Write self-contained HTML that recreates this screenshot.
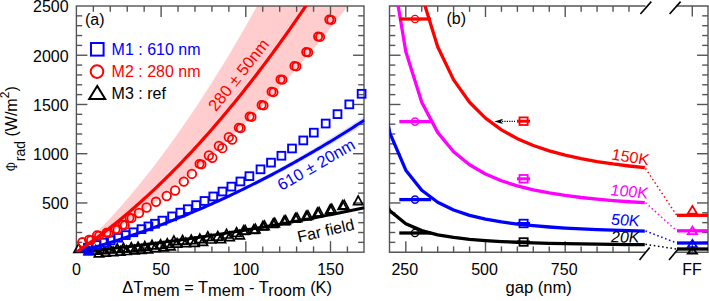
<!DOCTYPE html>
<html><head><meta charset="utf-8"><style>
html,body{margin:0;padding:0;background:#fff;}
svg{display:block;}
text{font-family:"Liberation Sans",sans-serif;}
</style></head><body>
<svg width="709" height="301" viewBox="0 0 709 301">
<rect width="709" height="301" fill="#fff"/>
<defs><clipPath id="ca"><rect x="76.4" y="6" width="288" height="246.2"/></clipPath><clipPath id="cb"><rect x="389.5" y="6" width="318.5" height="246.2"/></clipPath></defs>
<g clip-path="url(#ca)"><polygon points="76.4,252.2 78.82,249.95 81.24,247.68 83.66,245.37 86.08,243.04 88.5,240.68 90.92,238.29 93.34,235.87 95.76,233.43 98.18,230.95 100.6,228.45 103.02,225.92 105.44,223.35 107.86,220.77 110.28,218.15 112.7,215.5 115.12,212.83 117.54,210.12 119.96,207.39 122.38,204.63 124.8,201.84 127.22,199.03 129.64,196.18 132.06,193.31 134.48,190.4 136.9,187.47 139.32,184.51 141.74,181.53 144.16,178.51 146.58,175.46 149,172.39 151.42,169.29 153.84,166.16 156.26,163 158.68,159.81 161.1,156.59 163.52,153.35 165.94,150.07 168.36,146.77 170.78,143.44 173.2,140.08 175.62,136.7 178.04,133.28 180.46,129.84 182.88,126.36 185.3,122.86 187.72,119.33 190.14,115.77 192.56,112.19 194.98,108.57 197.4,104.93 199.82,101.25 202.24,97.55 204.66,93.82 207.08,90.06 209.5,86.28 211.92,82.46 214.34,78.62 216.76,74.75 219.18,70.85 221.6,66.92 224.02,62.96 226.44,58.97 228.86,54.96 231.28,50.92 233.7,46.84 236.12,42.74 238.54,38.62 240.96,34.46 243.38,30.27 245.8,26.06 248.22,21.82 250.64,17.54 253.06,13.24 255.48,8.92 257.9,4.56 260.32,0.17 262.74,-4.24 265.16,-8.68 267.58,-13.15 270,-17.65 272.42,-22.18 274.84,-26.74 277.26,-31.32 279.68,-35.93 282.1,-40.58 284.52,-45.25 286.94,-49.95 289.36,-54.67 291.78,-59.43 294.2,-64.21 296.62,-69.03 299.04,-73.87 301.46,-78.74 303.88,-83.64 306.3,-88.56 308.72,-93.52 311.14,-98.5 313.56,-103.52 315.98,-108.56 318.4,-113.63 320.82,-118.73 323.24,-123.85 325.66,-129.01 328.08,-134.19 330.5,-139.4 332.92,-144.64 335.34,-149.91 337.76,-155.21 340.18,-160.54 342.6,-165.89 345.02,-171.27 347.44,-176.69 349.86,-182.13 352.28,-187.6 354.7,-193.09 357.12,-198.62 359.54,-204.17 361.96,-209.76 364.38,-215.37 364.38,-15.47 361.96,-12.25 359.54,-9.06 357.12,-5.88 354.7,-2.71 352.28,0.43 349.86,3.56 347.44,6.68 345.02,9.78 342.6,12.86 340.18,15.92 337.76,18.97 335.34,22.01 332.92,25.02 330.5,28.02 328.08,31.01 325.66,33.97 323.24,36.92 320.82,39.86 318.4,42.78 315.98,45.68 313.56,48.57 311.14,51.43 308.72,54.29 306.3,57.12 303.88,59.95 301.46,62.75 299.04,65.54 296.62,68.31 294.2,71.06 291.78,73.8 289.36,76.53 286.94,79.23 284.52,81.92 282.1,84.6 279.68,87.25 277.26,89.89 274.84,92.52 272.42,95.13 270,97.72 267.58,100.3 265.16,102.85 262.74,105.4 260.32,107.92 257.9,110.43 255.48,112.93 253.06,115.41 250.64,117.87 248.22,120.31 245.8,122.74 243.38,125.15 240.96,127.55 238.54,129.93 236.12,132.29 233.7,134.64 231.28,136.97 228.86,139.29 226.44,141.59 224.02,143.87 221.6,146.13 219.18,148.38 216.76,150.61 214.34,152.83 211.92,155.03 209.5,157.22 207.08,159.38 204.66,161.53 202.24,163.67 199.82,165.79 197.4,167.89 194.98,169.98 192.56,172.05 190.14,174.1 187.72,176.14 185.3,178.16 182.88,180.16 180.46,182.15 178.04,184.12 175.62,186.08 173.2,188.02 170.78,189.94 168.36,191.85 165.94,193.74 163.52,195.61 161.1,197.47 158.68,199.31 156.26,201.13 153.84,202.94 151.42,204.74 149,206.51 146.58,208.27 144.16,210.01 141.74,211.74 139.32,213.45 136.9,215.15 134.48,216.82 132.06,218.49 129.64,220.13 127.22,221.76 124.8,223.37 122.38,224.97 119.96,226.55 117.54,228.11 115.12,229.66 112.7,231.19 110.28,232.71 107.86,234.21 105.44,235.69 103.02,237.15 100.6,238.6 98.18,240.04 95.76,241.45 93.34,242.85 90.92,244.24 88.5,245.61 86.08,246.96 83.66,248.29 81.24,249.61 78.82,250.91 76.4,252.2" fill="#ffcdcd"/>
<polygon points="76.4,252.2 78.82,251.53 81.24,250.85 83.66,250.17 86.08,249.48 88.5,248.77 90.92,248.06 93.34,247.35 95.76,246.62 98.18,245.89 100.6,245.15 103.02,244.4 105.44,243.64 107.86,242.87 110.28,242.1 112.7,241.32 115.12,240.53 117.54,239.73 119.96,238.93 122.38,238.11 124.8,237.29 127.22,236.46 129.64,235.62 132.06,234.78 134.48,233.92 136.9,233.06 139.32,232.19 141.74,231.31 144.16,230.43 146.58,229.53 149,228.63 151.42,227.72 153.84,226.8 156.26,225.88 158.68,224.94 161.1,224 163.52,223.05 165.94,222.09 168.36,221.13 170.78,220.15 173.2,219.17 175.62,218.18 178.04,217.18 180.46,216.17 182.88,215.16 185.3,214.14 187.72,213.11 190.14,212.07 192.56,211.02 194.98,209.97 197.4,208.9 199.82,207.83 202.24,206.75 204.66,205.67 207.08,204.57 209.5,203.47 211.92,202.36 214.34,201.24 216.76,200.11 219.18,198.98 221.6,197.84 224.02,196.68 226.44,195.53 228.86,194.36 231.28,193.18 233.7,192 236.12,190.81 238.54,189.61 240.96,188.4 243.38,187.19 245.8,185.96 248.22,184.73 250.64,183.49 253.06,182.25 255.48,180.99 257.9,179.73 260.32,178.45 262.74,177.18 265.16,175.89 267.58,174.59 270,173.29 272.42,171.98 274.84,170.66 277.26,169.33 279.68,167.99 282.1,166.65 284.52,165.3 286.94,163.94 289.36,162.57 291.78,161.19 294.2,159.81 296.62,158.42 299.04,157.02 301.46,155.61 303.88,154.19 306.3,152.77 308.72,151.34 311.14,149.9 313.56,148.45 315.98,146.99 318.4,145.53 320.82,144.06 323.24,142.58 325.66,141.09 328.08,139.59 330.5,138.09 332.92,136.57 335.34,135.05 337.76,133.52 340.18,131.99 342.6,130.44 345.02,128.89 347.44,127.33 349.86,125.76 352.28,124.18 354.7,122.6 357.12,121.01 359.54,119.41 361.96,117.8 364.38,116.18 364.38,124.1 361.96,125.63 359.54,127.14 357.12,128.65 354.7,130.15 352.28,131.64 349.86,133.13 347.44,134.6 345.02,136.07 342.6,137.54 340.18,138.99 337.76,140.44 335.34,141.88 332.92,143.31 330.5,144.73 328.08,146.15 325.66,147.56 323.24,148.96 320.82,150.36 318.4,151.74 315.98,153.12 313.56,154.49 311.14,155.86 308.72,157.21 306.3,158.56 303.88,159.9 301.46,161.24 299.04,162.56 296.62,163.88 294.2,165.19 291.78,166.5 289.36,167.79 286.94,169.08 284.52,170.36 282.1,171.63 279.68,172.9 277.26,174.16 274.84,175.41 272.42,176.65 270,177.88 267.58,179.11 265.16,180.33 262.74,181.55 260.32,182.75 257.9,183.95 255.48,185.14 253.06,186.32 250.64,187.49 248.22,188.66 245.8,189.82 243.38,190.97 240.96,192.12 238.54,193.26 236.12,194.38 233.7,195.51 231.28,196.62 228.86,197.73 226.44,198.83 224.02,199.92 221.6,201 219.18,202.08 216.76,203.15 214.34,204.21 211.92,205.26 209.5,206.31 207.08,207.35 204.66,208.38 202.24,209.4 199.82,210.42 197.4,211.43 194.98,212.43 192.56,213.42 190.14,214.41 187.72,215.38 185.3,216.35 182.88,217.32 180.46,218.27 178.04,219.22 175.62,220.16 173.2,221.09 170.78,222.02 168.36,222.94 165.94,223.85 163.52,224.75 161.1,225.64 158.68,226.53 156.26,227.41 153.84,228.28 151.42,229.15 149,230 146.58,230.85 144.16,231.7 141.74,232.53 139.32,233.36 136.9,234.18 134.48,234.99 132.06,235.79 129.64,236.59 127.22,237.38 124.8,238.16 122.38,238.93 119.96,239.7 117.54,240.46 115.12,241.21 112.7,241.95 110.28,242.69 107.86,243.42 105.44,244.14 103.02,244.85 100.6,245.56 98.18,246.26 95.76,246.95 93.34,247.63 90.92,248.31 88.5,248.97 86.08,249.63 83.66,250.29 81.24,250.93 78.82,251.57 76.4,252.2" fill="#c8c8ff" opacity="0.6"/></g>
<g stroke="#555" stroke-width="1.4" fill="none">
<rect x="76.4" y="6" width="287.6" height="246.2"/>
<line x1="93.34" y1="6" x2="93.34" y2="11.8"/><line x1="93.34" y1="252.2" x2="93.34" y2="246.4"/>
<line x1="110.28" y1="6" x2="110.28" y2="11.8"/><line x1="110.28" y1="252.2" x2="110.28" y2="246.4"/>
<line x1="127.22" y1="6" x2="127.22" y2="11.8"/><line x1="127.22" y1="252.2" x2="127.22" y2="246.4"/>
<line x1="144.16" y1="6" x2="144.16" y2="11.8"/><line x1="144.16" y1="252.2" x2="144.16" y2="246.4"/>
<line x1="161.1" y1="6" x2="161.1" y2="17"/><line x1="161.1" y1="252.2" x2="161.1" y2="241.2"/>
<line x1="178.04" y1="6" x2="178.04" y2="11.8"/><line x1="178.04" y1="252.2" x2="178.04" y2="246.4"/>
<line x1="194.98" y1="6" x2="194.98" y2="11.8"/><line x1="194.98" y1="252.2" x2="194.98" y2="246.4"/>
<line x1="211.92" y1="6" x2="211.92" y2="11.8"/><line x1="211.92" y1="252.2" x2="211.92" y2="246.4"/>
<line x1="228.86" y1="6" x2="228.86" y2="11.8"/><line x1="228.86" y1="252.2" x2="228.86" y2="246.4"/>
<line x1="245.8" y1="6" x2="245.8" y2="17"/><line x1="245.8" y1="252.2" x2="245.8" y2="241.2"/>
<line x1="262.74" y1="6" x2="262.74" y2="11.8"/><line x1="262.74" y1="252.2" x2="262.74" y2="246.4"/>
<line x1="279.68" y1="6" x2="279.68" y2="11.8"/><line x1="279.68" y1="252.2" x2="279.68" y2="246.4"/>
<line x1="296.62" y1="6" x2="296.62" y2="11.8"/><line x1="296.62" y1="252.2" x2="296.62" y2="246.4"/>
<line x1="313.56" y1="6" x2="313.56" y2="11.8"/><line x1="313.56" y1="252.2" x2="313.56" y2="246.4"/>
<line x1="330.5" y1="6" x2="330.5" y2="17"/><line x1="330.5" y1="252.2" x2="330.5" y2="241.2"/>
<line x1="347.44" y1="6" x2="347.44" y2="11.8"/><line x1="347.44" y1="252.2" x2="347.44" y2="246.4"/>
<line x1="76.4" y1="242.35" x2="82.2" y2="242.35"/><line x1="364" y1="242.35" x2="358.2" y2="242.35"/>
<line x1="76.4" y1="232.5" x2="82.2" y2="232.5"/><line x1="364" y1="232.5" x2="358.2" y2="232.5"/>
<line x1="76.4" y1="222.66" x2="82.2" y2="222.66"/><line x1="364" y1="222.66" x2="358.2" y2="222.66"/>
<line x1="76.4" y1="212.81" x2="82.2" y2="212.81"/><line x1="364" y1="212.81" x2="358.2" y2="212.81"/>
<line x1="76.4" y1="202.96" x2="87.4" y2="202.96"/><line x1="364" y1="202.96" x2="353" y2="202.96"/>
<line x1="76.4" y1="193.11" x2="82.2" y2="193.11"/><line x1="364" y1="193.11" x2="358.2" y2="193.11"/>
<line x1="76.4" y1="183.26" x2="82.2" y2="183.26"/><line x1="364" y1="183.26" x2="358.2" y2="183.26"/>
<line x1="76.4" y1="173.42" x2="82.2" y2="173.42"/><line x1="364" y1="173.42" x2="358.2" y2="173.42"/>
<line x1="76.4" y1="163.57" x2="82.2" y2="163.57"/><line x1="364" y1="163.57" x2="358.2" y2="163.57"/>
<line x1="76.4" y1="153.72" x2="87.4" y2="153.72"/><line x1="364" y1="153.72" x2="353" y2="153.72"/>
<line x1="76.4" y1="143.87" x2="82.2" y2="143.87"/><line x1="364" y1="143.87" x2="358.2" y2="143.87"/>
<line x1="76.4" y1="134.02" x2="82.2" y2="134.02"/><line x1="364" y1="134.02" x2="358.2" y2="134.02"/>
<line x1="76.4" y1="124.18" x2="82.2" y2="124.18"/><line x1="364" y1="124.18" x2="358.2" y2="124.18"/>
<line x1="76.4" y1="114.33" x2="82.2" y2="114.33"/><line x1="364" y1="114.33" x2="358.2" y2="114.33"/>
<line x1="76.4" y1="104.48" x2="87.4" y2="104.48"/><line x1="364" y1="104.48" x2="353" y2="104.48"/>
<line x1="76.4" y1="94.63" x2="82.2" y2="94.63"/><line x1="364" y1="94.63" x2="358.2" y2="94.63"/>
<line x1="76.4" y1="84.78" x2="82.2" y2="84.78"/><line x1="364" y1="84.78" x2="358.2" y2="84.78"/>
<line x1="76.4" y1="74.94" x2="82.2" y2="74.94"/><line x1="364" y1="74.94" x2="358.2" y2="74.94"/>
<line x1="76.4" y1="65.09" x2="82.2" y2="65.09"/><line x1="364" y1="65.09" x2="358.2" y2="65.09"/>
<line x1="76.4" y1="55.24" x2="87.4" y2="55.24"/><line x1="364" y1="55.24" x2="353" y2="55.24"/>
<line x1="76.4" y1="45.39" x2="82.2" y2="45.39"/><line x1="364" y1="45.39" x2="358.2" y2="45.39"/>
<line x1="76.4" y1="35.54" x2="82.2" y2="35.54"/><line x1="364" y1="35.54" x2="358.2" y2="35.54"/>
<line x1="76.4" y1="25.7" x2="82.2" y2="25.7"/><line x1="364" y1="25.7" x2="358.2" y2="25.7"/>
<line x1="76.4" y1="15.85" x2="82.2" y2="15.85"/><line x1="364" y1="15.85" x2="358.2" y2="15.85"/>
</g>
<g clip-path="url(#ca)"><polyline points="76.4,252.2 78.82,251.96 81.24,251.72 83.66,251.48 86.08,251.24 88.5,250.99 90.92,250.74 93.34,250.49 95.76,250.24 98.18,249.98 100.6,249.72 103.02,249.46 105.44,249.2 107.86,248.93 110.28,248.66 112.7,248.4 115.12,248.12 117.54,247.85 119.96,247.57 122.38,247.29 124.8,247.01 127.22,246.73 129.64,246.44 132.06,246.15 134.48,245.86 136.9,245.57 139.32,245.27 141.74,244.98 144.16,244.68 146.58,244.38 149,244.07 151.42,243.76 153.84,243.46 156.26,243.14 158.68,242.83 161.1,242.51 163.52,242.2 165.94,241.88 168.36,241.55 170.78,241.23 173.2,240.9 175.62,240.57 178.04,240.24 180.46,239.9 182.88,239.57 185.3,239.23 187.72,238.89 190.14,238.54 192.56,238.2 194.98,237.85 197.4,237.5 199.82,237.15 202.24,236.79 204.66,236.43 207.08,236.07 209.5,235.71 211.92,235.35 214.34,234.98 216.76,234.61 219.18,234.24 221.6,233.87 224.02,233.49 226.44,233.11 228.86,232.73 231.28,232.35 233.7,231.96 236.12,231.58 238.54,231.19 240.96,230.79 243.38,230.4 245.8,230 248.22,229.6 250.64,229.2 253.06,228.8 255.48,228.39 257.9,227.98 260.32,227.57 262.74,227.16 265.16,226.75 267.58,226.33 270,225.91 272.42,225.49 274.84,225.06 277.26,224.64 279.68,224.21 282.1,223.78 284.52,223.34 286.94,222.91 289.36,222.47 291.78,222.03 294.2,221.58 296.62,221.14 299.04,220.69 301.46,220.24 303.88,219.79 306.3,219.34 308.72,218.88 311.14,218.42 313.56,217.96 315.98,217.49 318.4,217.03 320.82,216.56 323.24,216.09 325.66,215.62 328.08,215.14 330.5,214.66 332.92,214.18 335.34,213.7 337.76,213.22 340.18,212.73 342.6,212.24 345.02,211.75 347.44,211.26 349.86,210.76 352.28,210.26 354.7,209.76 357.12,209.26 359.54,208.75 361.96,208.25 364.38,207.74" fill="none" stroke="#000" stroke-width="3"/></g>
<polygon points="88.8,246.5 84,254.6 93.6,254.6" fill="none" stroke="#000" stroke-width="1.6"/>
<polygon points="99,248.2 94.4,256.8 103.6,256.8" fill="none" stroke="#000" stroke-width="1.7" stroke-linejoin="miter"/>
<polygon points="105.7,247.6 101.1,256.2 110.3,256.2" fill="none" stroke="#000" stroke-width="1.7" stroke-linejoin="miter"/>
<polygon points="113.1,247 108.5,255.6 117.7,255.6" fill="none" stroke="#000" stroke-width="1.7" stroke-linejoin="miter"/>
<polygon points="120.4,246.5 115.8,255.1 125,255.1" fill="none" stroke="#000" stroke-width="1.7" stroke-linejoin="miter"/>
<polygon points="126.6,245.9 122,254.5 131.2,254.5" fill="none" stroke="#000" stroke-width="1.7" stroke-linejoin="miter"/>
<polygon points="134.5,245.3 129.9,253.9 139.1,253.9" fill="none" stroke="#000" stroke-width="1.7" stroke-linejoin="miter"/>
<polygon points="141.3,244.8 136.7,253.4 145.9,253.4" fill="none" stroke="#000" stroke-width="1.7" stroke-linejoin="miter"/>
<polygon points="148,244.2 143.4,252.8 152.6,252.8" fill="none" stroke="#000" stroke-width="1.7" stroke-linejoin="miter"/>
<polygon points="155.2,242.9 150.6,251.5 159.8,251.5" fill="none" stroke="#000" stroke-width="1.7" stroke-linejoin="miter"/>
<polygon points="163.8,242.3 159.2,250.9 168.4,250.9" fill="none" stroke="#000" stroke-width="1.7" stroke-linejoin="miter"/>
<polygon points="170.5,241.3 165.9,249.9 175.1,249.9" fill="none" stroke="#000" stroke-width="1.7" stroke-linejoin="miter"/>
<polygon points="177.1,238.6 172.5,247.2 181.7,247.2" fill="none" stroke="#000" stroke-width="1.7" stroke-linejoin="miter"/>
<polygon points="185.8,238.1 181.2,246.7 190.4,246.7" fill="none" stroke="#000" stroke-width="1.7" stroke-linejoin="miter"/>
<polygon points="194.4,237.7 189.8,246.3 199,246.3" fill="none" stroke="#000" stroke-width="1.7" stroke-linejoin="miter"/>
<polygon points="203,236.7 198.4,245.3 207.6,245.3" fill="none" stroke="#000" stroke-width="1.7" stroke-linejoin="miter"/>
<polygon points="211,234.4 206.4,243 215.6,243" fill="none" stroke="#000" stroke-width="1.7" stroke-linejoin="miter"/>
<polygon points="221,234.1 216.4,242.7 225.6,242.7" fill="none" stroke="#000" stroke-width="1.7" stroke-linejoin="miter"/>
<polygon points="229.7,232 225.1,240.6 234.3,240.6" fill="none" stroke="#000" stroke-width="1.7" stroke-linejoin="miter"/>
<polygon points="239.8,230.3 235.2,238.9 244.4,238.9" fill="none" stroke="#000" stroke-width="1.7" stroke-linejoin="miter"/>
<polygon points="243.6,225.9 239,234.5 248.2,234.5" fill="none" stroke="#000" stroke-width="1.7" stroke-linejoin="miter"/>
<polygon points="253.8,224.8 249.2,233.4 258.4,233.4" fill="none" stroke="#000" stroke-width="1.7" stroke-linejoin="miter"/>
<polygon points="262.9,221.4 258.3,230 267.5,230" fill="none" stroke="#000" stroke-width="1.7" stroke-linejoin="miter"/>
<polygon points="273.2,218.8 268.6,227.4 277.8,227.4" fill="none" stroke="#000" stroke-width="1.7" stroke-linejoin="miter"/>
<polygon points="284.1,216.1 279.5,224.7 288.7,224.7" fill="none" stroke="#000" stroke-width="1.7" stroke-linejoin="miter"/>
<polygon points="295.4,213.5 290.8,222.1 300,222.1" fill="none" stroke="#000" stroke-width="1.7" stroke-linejoin="miter"/>
<polygon points="306.3,211.2 301.7,219.8 310.9,219.8" fill="none" stroke="#000" stroke-width="1.7" stroke-linejoin="miter"/>
<polygon points="317.5,208 312.9,216.6 322.1,216.6" fill="none" stroke="#000" stroke-width="1.7" stroke-linejoin="miter"/>
<polygon points="330.2,204.7 325.6,213.3 334.8,213.3" fill="none" stroke="#000" stroke-width="1.7" stroke-linejoin="miter"/>
<polygon points="342.6,200.7 338,209.3 347.2,209.3" fill="none" stroke="#000" stroke-width="1.7" stroke-linejoin="miter"/>
<polygon points="78.5,243.8 73.9,252.4 83.1,252.4" fill="none" stroke="#000" stroke-width="1.7" stroke-linejoin="miter"/>
<polygon points="95.8,245.6 91.2,254.2 100.4,254.2" fill="none" stroke="#000" stroke-width="1.7" stroke-linejoin="miter"/>
<polygon points="102.5,245 97.9,253.6 107.1,253.6" fill="none" stroke="#000" stroke-width="1.7" stroke-linejoin="miter"/>
<polygon points="109.9,244.4 105.3,253 114.5,253" fill="none" stroke="#000" stroke-width="1.7" stroke-linejoin="miter"/>
<polygon points="117.2,243.9 112.6,252.5 121.8,252.5" fill="none" stroke="#000" stroke-width="1.7" stroke-linejoin="miter"/>
<polygon points="123.4,243.3 118.8,251.9 128,251.9" fill="none" stroke="#000" stroke-width="1.7" stroke-linejoin="miter"/>
<polygon points="131.3,242.7 126.7,251.3 135.9,251.3" fill="none" stroke="#000" stroke-width="1.7" stroke-linejoin="miter"/>
<polygon points="138.1,242.2 133.5,250.8 142.7,250.8" fill="none" stroke="#000" stroke-width="1.7" stroke-linejoin="miter"/>
<polygon points="144.8,241.6 140.2,250.2 149.4,250.2" fill="none" stroke="#000" stroke-width="1.7" stroke-linejoin="miter"/>
<polygon points="152,240.3 147.4,248.9 156.6,248.9" fill="none" stroke="#000" stroke-width="1.7" stroke-linejoin="miter"/>
<polygon points="160.6,239.7 156,248.3 165.2,248.3" fill="none" stroke="#000" stroke-width="1.7" stroke-linejoin="miter"/>
<polygon points="167.3,238.7 162.7,247.3 171.9,247.3" fill="none" stroke="#000" stroke-width="1.7" stroke-linejoin="miter"/>
<polygon points="173.9,236 169.3,244.6 178.5,244.6" fill="none" stroke="#000" stroke-width="1.7" stroke-linejoin="miter"/>
<polygon points="182.6,235.5 178,244.1 187.2,244.1" fill="none" stroke="#000" stroke-width="1.7" stroke-linejoin="miter"/>
<polygon points="191.2,235.1 186.6,243.7 195.8,243.7" fill="none" stroke="#000" stroke-width="1.7" stroke-linejoin="miter"/>
<polygon points="199.8,234.1 195.2,242.7 204.4,242.7" fill="none" stroke="#000" stroke-width="1.7" stroke-linejoin="miter"/>
<polygon points="207.8,231.8 203.2,240.4 212.4,240.4" fill="none" stroke="#000" stroke-width="1.7" stroke-linejoin="miter"/>
<polygon points="217.8,231.5 213.2,240.1 222.4,240.1" fill="none" stroke="#000" stroke-width="1.7" stroke-linejoin="miter"/>
<polygon points="226.5,229.4 221.9,238 231.1,238" fill="none" stroke="#000" stroke-width="1.7" stroke-linejoin="miter"/>
<polygon points="236.6,227.7 232,236.3 241.2,236.3" fill="none" stroke="#000" stroke-width="1.7" stroke-linejoin="miter"/>
<polygon points="245.2,225.5 240.6,234.1 249.8,234.1" fill="none" stroke="#000" stroke-width="1.7" stroke-linejoin="miter"/>
<polygon points="255.4,224.4 250.8,233 260,233" fill="none" stroke="#000" stroke-width="1.7" stroke-linejoin="miter"/>
<polygon points="264.5,221 259.9,229.6 269.1,229.6" fill="none" stroke="#000" stroke-width="1.7" stroke-linejoin="miter"/>
<polygon points="274.8,218.4 270.2,227 279.4,227" fill="none" stroke="#000" stroke-width="1.7" stroke-linejoin="miter"/>
<polygon points="285.7,215.7 281.1,224.3 290.3,224.3" fill="none" stroke="#000" stroke-width="1.7" stroke-linejoin="miter"/>
<polygon points="297,213.1 292.4,221.7 301.6,221.7" fill="none" stroke="#000" stroke-width="1.7" stroke-linejoin="miter"/>
<polygon points="307.9,210.8 303.3,219.4 312.5,219.4" fill="none" stroke="#000" stroke-width="1.7" stroke-linejoin="miter"/>
<polygon points="319.1,207.6 314.5,216.2 323.7,216.2" fill="none" stroke="#000" stroke-width="1.7" stroke-linejoin="miter"/>
<polygon points="331.8,204.3 327.2,212.9 336.4,212.9" fill="none" stroke="#000" stroke-width="1.7" stroke-linejoin="miter"/>
<polygon points="344.2,200.3 339.6,208.9 348.8,208.9" fill="none" stroke="#000" stroke-width="1.7" stroke-linejoin="miter"/>
<polygon points="358.2,196 353.6,204.6 362.8,204.6" fill="none" stroke="#000" stroke-width="1.7" stroke-linejoin="miter"/>
<g clip-path="url(#ca)"><polyline points="76.4,252.2 78.82,251.55 81.24,250.89 83.66,250.23 86.08,249.55 88.5,248.87 90.92,248.19 93.34,247.49 95.76,246.78 98.18,246.07 100.6,245.35 103.02,244.62 105.44,243.89 107.86,243.15 110.28,242.4 112.7,241.64 115.12,240.87 117.54,240.1 119.96,239.31 122.38,238.52 124.8,237.73 127.22,236.92 129.64,236.11 132.06,235.29 134.48,234.46 136.9,233.62 139.32,232.77 141.74,231.92 144.16,231.06 146.58,230.19 149,229.32 151.42,228.43 153.84,227.54 156.26,226.64 158.68,225.74 161.1,224.82 163.52,223.9 165.94,222.97 168.36,222.03 170.78,221.09 173.2,220.13 175.62,219.17 178.04,218.2 180.46,217.22 182.88,216.24 185.3,215.25 187.72,214.25 190.14,213.24 192.56,212.22 194.98,211.2 197.4,210.17 199.82,209.13 202.24,208.08 204.66,207.02 207.08,205.96 209.5,204.89 211.92,203.81 214.34,202.72 216.76,201.63 219.18,200.53 221.6,199.42 224.02,198.3 226.44,197.18 228.86,196.04 231.28,194.9 233.7,193.75 236.12,192.6 238.54,191.43 240.96,190.26 243.38,189.08 245.8,187.89 248.22,186.7 250.64,185.49 253.06,184.28 255.48,183.06 257.9,181.84 260.32,180.6 262.74,179.36 265.16,178.11 267.58,176.85 270,175.59 272.42,174.31 274.84,173.03 277.26,171.74 279.68,170.45 282.1,169.14 284.52,167.83 286.94,166.51 289.36,165.18 291.78,163.84 294.2,162.5 296.62,161.15 299.04,159.79 301.46,158.42 303.88,157.05 306.3,155.67 308.72,154.28 311.14,152.88 313.56,151.47 315.98,150.06 318.4,148.64 320.82,147.21 323.24,145.77 325.66,144.32 328.08,142.87 330.5,141.41 332.92,139.94 335.34,138.47 337.76,136.98 340.18,135.49 342.6,133.99 345.02,132.48 347.44,130.97 349.86,129.44 352.28,127.91 354.7,126.37 357.12,124.83 359.54,123.27 361.96,121.71 364.38,120.14" fill="none" stroke="#0000ff" stroke-width="3"/></g>
<rect x="84.6" y="247.2" width="7.8" height="7.2" fill="none" stroke="#0000ff" stroke-width="1.9"/><rect x="85" y="252" width="7" height="2.4" fill="#0000ff"/>
<rect x="84" y="243.78" width="7.8" height="7.8" fill="none" stroke="#0000ff" stroke-width="1.9"/>
<rect x="92.6" y="241.11" width="7.8" height="7.8" fill="none" stroke="#0000ff" stroke-width="1.9"/>
<rect x="100.2" y="238.66" width="7.8" height="7.8" fill="none" stroke="#0000ff" stroke-width="1.9"/>
<rect x="106.7" y="236.49" width="7.8" height="7.8" fill="none" stroke="#0000ff" stroke-width="1.9"/>
<rect x="114.3" y="233.86" width="7.8" height="7.8" fill="none" stroke="#0000ff" stroke-width="1.9"/>
<rect x="121.8" y="231.19" width="7.8" height="7.8" fill="none" stroke="#0000ff" stroke-width="1.9"/>
<rect x="129.4" y="228.38" width="7.8" height="7.8" fill="none" stroke="#0000ff" stroke-width="1.9"/>
<rect x="137.6" y="225.24" width="7.8" height="7.8" fill="none" stroke="#0000ff" stroke-width="1.9"/>
<rect x="144.5" y="222.51" width="7.8" height="7.8" fill="none" stroke="#0000ff" stroke-width="1.9"/>
<rect x="151.1" y="219.82" width="7.8" height="7.8" fill="none" stroke="#0000ff" stroke-width="1.9"/>
<rect x="158.5" y="216.71" width="7.8" height="7.8" fill="none" stroke="#0000ff" stroke-width="1.9"/>
<rect x="168.2" y="212.48" width="7.8" height="7.8" fill="none" stroke="#0000ff" stroke-width="1.9"/>
<rect x="176.5" y="208.73" width="7.8" height="7.8" fill="none" stroke="#0000ff" stroke-width="1.9"/>
<rect x="183.9" y="205.27" width="7.8" height="7.8" fill="none" stroke="#0000ff" stroke-width="1.9"/>
<rect x="192.3" y="201.22" width="7.8" height="7.8" fill="none" stroke="#0000ff" stroke-width="1.9"/>
<rect x="200.6" y="197.08" width="7.8" height="7.8" fill="none" stroke="#0000ff" stroke-width="1.9"/>
<rect x="209.4" y="192.54" width="7.8" height="7.8" fill="none" stroke="#0000ff" stroke-width="1.9"/>
<rect x="218.6" y="187.63" width="7.8" height="7.8" fill="none" stroke="#0000ff" stroke-width="1.9"/>
<rect x="227.5" y="182.71" width="7.8" height="7.8" fill="none" stroke="#0000ff" stroke-width="1.9"/>
<rect x="236.5" y="177.56" width="7.8" height="7.8" fill="none" stroke="#0000ff" stroke-width="1.9"/>
<rect x="245.5" y="172.24" width="7.8" height="7.8" fill="none" stroke="#0000ff" stroke-width="1.9"/>
<rect x="256.6" y="165.43" width="7.8" height="7.8" fill="none" stroke="#0000ff" stroke-width="1.9"/>
<rect x="267.1" y="158.73" width="7.8" height="7.8" fill="none" stroke="#0000ff" stroke-width="1.9"/>
<rect x="277.5" y="151.85" width="7.8" height="7.8" fill="none" stroke="#0000ff" stroke-width="1.9"/>
<rect x="288.1" y="144.58" width="7.8" height="7.8" fill="none" stroke="#0000ff" stroke-width="1.9"/>
<rect x="299.4" y="136.52" width="7.8" height="7.8" fill="none" stroke="#0000ff" stroke-width="1.9"/>
<rect x="309.9" y="128.76" width="7.8" height="7.8" fill="none" stroke="#0000ff" stroke-width="1.9"/>
<rect x="321.8" y="119.64" width="7.8" height="7.8" fill="none" stroke="#0000ff" stroke-width="1.9"/>
<rect x="333.6" y="110.23" width="7.8" height="7.8" fill="none" stroke="#0000ff" stroke-width="1.9"/>
<rect x="345.4" y="100.47" width="7.8" height="7.8" fill="none" stroke="#0000ff" stroke-width="1.9"/>
<rect x="357.7" y="89.89" width="7.8" height="7.8" fill="none" stroke="#0000ff" stroke-width="1.9"/>
<g clip-path="url(#ca)"><polyline points="76.4,252.2 78.82,250.57 81.24,248.92 83.66,247.25 86.08,245.56 88.5,243.85 90.92,242.12 93.34,240.37 95.76,238.6 98.18,236.8 100.6,234.99 103.02,233.15 105.44,231.3 107.86,229.42 110.28,227.52 112.7,225.61 115.12,223.67 117.54,221.71 119.96,219.73 122.38,217.73 124.8,215.71 127.22,213.67 129.64,211.61 132.06,209.52 134.48,207.42 136.9,205.3 139.32,203.15 141.74,200.99 144.16,198.8 146.58,196.59 149,194.37 151.42,192.12 153.84,189.85 156.26,187.56 158.68,185.25 161.1,182.92 163.52,180.57 165.94,178.2 168.36,175.8 170.78,173.39 173.2,170.96 175.62,168.5 178.04,166.03 180.46,163.53 182.88,161.01 185.3,158.48 187.72,155.92 190.14,153.34 192.56,150.74 194.98,148.12 197.4,145.48 199.82,142.82 202.24,140.14 204.66,137.43 207.08,134.71 209.5,131.97 211.92,129.2 214.34,126.42 216.76,123.61 219.18,120.78 221.6,117.94 224.02,115.07 226.44,112.18 228.86,109.27 231.28,106.34 233.7,103.39 236.12,100.42 238.54,97.43 240.96,94.42 243.38,91.38 245.8,88.33 248.22,85.25 250.64,82.16 253.06,79.04 255.48,75.91 257.9,72.75 260.32,69.57 262.74,66.37 265.16,63.16 267.58,59.92 270,56.65 272.42,53.37 274.84,50.07 277.26,46.75 279.68,43.41 282.1,40.04 284.52,36.66 286.94,33.25 289.36,29.83 291.78,26.38 294.2,22.91 296.62,19.43 299.04,15.92 301.46,12.39 303.88,8.84 306.3,5.27 308.72,1.68 311.14,-1.93 313.56,-5.57 315.98,-9.22 318.4,-12.89 320.82,-16.59 323.24,-20.3 325.66,-24.04 328.08,-27.79 330.5,-31.57 332.92,-35.37 335.34,-39.19 337.76,-43.02 340.18,-46.88 342.6,-50.76 345.02,-54.67 347.44,-58.59 349.86,-62.53 352.28,-66.49 354.7,-70.48 357.12,-74.48 359.54,-78.5 361.96,-82.55 364.38,-86.62" fill="none" stroke="#ff0000" stroke-width="3.2"/></g>
<circle cx="82.4" cy="242.3" r="4.3" fill="none" stroke="#ff0000" stroke-width="1.8"/>
<circle cx="89" cy="239.8" r="4.1" fill="none" stroke="#ff0000" stroke-width="1.8"/>
<circle cx="91" cy="240.2" r="4.1" fill="none" stroke="#ff0000" stroke-width="1.8"/>
<circle cx="97" cy="235.3" r="4.1" fill="none" stroke="#ff0000" stroke-width="1.8"/>
<circle cx="99" cy="235.7" r="4.1" fill="none" stroke="#ff0000" stroke-width="1.8"/>
<circle cx="106.5" cy="232.8" r="4.1" fill="none" stroke="#ff0000" stroke-width="1.8"/>
<circle cx="108.5" cy="233.2" r="4.1" fill="none" stroke="#ff0000" stroke-width="1.8"/>
<circle cx="115.5" cy="229.3" r="4.1" fill="none" stroke="#ff0000" stroke-width="1.8"/>
<circle cx="117.5" cy="229.7" r="4.1" fill="none" stroke="#ff0000" stroke-width="1.8"/>
<circle cx="122.8" cy="224.8" r="4.1" fill="none" stroke="#ff0000" stroke-width="1.8"/>
<circle cx="124.8" cy="225.2" r="4.1" fill="none" stroke="#ff0000" stroke-width="1.8"/>
<circle cx="129.5" cy="217.8" r="4.1" fill="none" stroke="#ff0000" stroke-width="1.8"/>
<circle cx="131.5" cy="218.2" r="4.1" fill="none" stroke="#ff0000" stroke-width="1.8"/>
<circle cx="139" cy="213" r="4.3" fill="none" stroke="#ff0000" stroke-width="1.8"/>
<circle cx="146.6" cy="207.5" r="4.3" fill="none" stroke="#ff0000" stroke-width="1.8"/>
<circle cx="156" cy="201.8" r="4.3" fill="none" stroke="#ff0000" stroke-width="1.8"/>
<circle cx="166.7" cy="196" r="4.3" fill="none" stroke="#ff0000" stroke-width="1.8"/>
<circle cx="175.1" cy="190.5" r="4.3" fill="none" stroke="#ff0000" stroke-width="1.8"/>
<circle cx="183.8" cy="181.6" r="4.3" fill="none" stroke="#ff0000" stroke-width="1.8"/>
<circle cx="191.9" cy="173.9" r="4.3" fill="none" stroke="#ff0000" stroke-width="1.8"/>
<circle cx="199.5" cy="164" r="4.1" fill="none" stroke="#ff0000" stroke-width="1.8"/>
<circle cx="201.5" cy="164.4" r="4.1" fill="none" stroke="#ff0000" stroke-width="1.8"/>
<circle cx="208.9" cy="155.5" r="4.3" fill="none" stroke="#ff0000" stroke-width="1.7"/>
<circle cx="212.3" cy="157.8" r="4.3" fill="none" stroke="#ff0000" stroke-width="1.7"/>
<circle cx="218.9" cy="145.9" r="4.3" fill="none" stroke="#ff0000" stroke-width="1.7"/>
<circle cx="222.3" cy="148.2" r="4.3" fill="none" stroke="#ff0000" stroke-width="1.7"/>
<circle cx="228.8" cy="137.2" r="4.3" fill="none" stroke="#ff0000" stroke-width="1.7"/>
<circle cx="232.2" cy="139.5" r="4.3" fill="none" stroke="#ff0000" stroke-width="1.7"/>
<circle cx="238.8" cy="127.8" r="4.1" fill="none" stroke="#ff0000" stroke-width="1.8"/>
<circle cx="240.8" cy="128.2" r="4.1" fill="none" stroke="#ff0000" stroke-width="1.8"/>
<circle cx="249.6" cy="116.6" r="4.1" fill="none" stroke="#ff0000" stroke-width="1.8"/>
<circle cx="251.6" cy="117" r="4.1" fill="none" stroke="#ff0000" stroke-width="1.8"/>
<circle cx="261.6" cy="105.1" r="4.1" fill="none" stroke="#ff0000" stroke-width="1.8"/>
<circle cx="263.6" cy="105.5" r="4.1" fill="none" stroke="#ff0000" stroke-width="1.8"/>
<circle cx="271.5" cy="91.8" r="4.1" fill="none" stroke="#ff0000" stroke-width="1.8"/>
<circle cx="273.5" cy="92.2" r="4.1" fill="none" stroke="#ff0000" stroke-width="1.8"/>
<circle cx="280.5" cy="79.4" r="4.1" fill="none" stroke="#ff0000" stroke-width="1.8"/>
<circle cx="282.5" cy="79.8" r="4.1" fill="none" stroke="#ff0000" stroke-width="1.8"/>
<circle cx="294.4" cy="66" r="4.1" fill="none" stroke="#ff0000" stroke-width="1.8"/>
<circle cx="296.4" cy="66.4" r="4.1" fill="none" stroke="#ff0000" stroke-width="1.8"/>
<circle cx="306.2" cy="52.1" r="4.1" fill="none" stroke="#ff0000" stroke-width="1.8"/>
<circle cx="308.2" cy="52.5" r="4.1" fill="none" stroke="#ff0000" stroke-width="1.8"/>
<circle cx="318.1" cy="36.6" r="4.1" fill="none" stroke="#ff0000" stroke-width="1.8"/>
<circle cx="320.1" cy="37" r="4.1" fill="none" stroke="#ff0000" stroke-width="1.8"/>
<circle cx="329.3" cy="19.6" r="4.1" fill="none" stroke="#ff0000" stroke-width="1.8"/>
<circle cx="331.3" cy="20" r="4.1" fill="none" stroke="#ff0000" stroke-width="1.8"/>
<g stroke="#555" stroke-width="1.4" fill="none">
<polyline points="645.5,6 389.5,6 389.5,252.2 645.5,252.2"/>
<polyline points="676,6 708,6 708,252.2 676,252.2"/>
<line x1="405.8" y1="6" x2="405.8" y2="17"/><line x1="405.8" y1="252.2" x2="405.8" y2="241.2"/>
<line x1="421.74" y1="6" x2="421.74" y2="11.8"/><line x1="421.74" y1="252.2" x2="421.74" y2="246.4"/>
<line x1="437.68" y1="6" x2="437.68" y2="11.8"/><line x1="437.68" y1="252.2" x2="437.68" y2="246.4"/>
<line x1="453.62" y1="6" x2="453.62" y2="11.8"/><line x1="453.62" y1="252.2" x2="453.62" y2="246.4"/>
<line x1="469.56" y1="6" x2="469.56" y2="11.8"/><line x1="469.56" y1="252.2" x2="469.56" y2="246.4"/>
<line x1="485.5" y1="6" x2="485.5" y2="17"/><line x1="485.5" y1="252.2" x2="485.5" y2="241.2"/>
<line x1="501.44" y1="6" x2="501.44" y2="11.8"/><line x1="501.44" y1="252.2" x2="501.44" y2="246.4"/>
<line x1="517.38" y1="6" x2="517.38" y2="11.8"/><line x1="517.38" y1="252.2" x2="517.38" y2="246.4"/>
<line x1="533.32" y1="6" x2="533.32" y2="11.8"/><line x1="533.32" y1="252.2" x2="533.32" y2="246.4"/>
<line x1="549.26" y1="6" x2="549.26" y2="11.8"/><line x1="549.26" y1="252.2" x2="549.26" y2="246.4"/>
<line x1="565.2" y1="6" x2="565.2" y2="17"/><line x1="565.2" y1="252.2" x2="565.2" y2="241.2"/>
<line x1="581.14" y1="6" x2="581.14" y2="11.8"/><line x1="581.14" y1="252.2" x2="581.14" y2="246.4"/>
<line x1="597.08" y1="6" x2="597.08" y2="11.8"/><line x1="597.08" y1="252.2" x2="597.08" y2="246.4"/>
<line x1="613.02" y1="6" x2="613.02" y2="11.8"/><line x1="613.02" y1="252.2" x2="613.02" y2="246.4"/>
<line x1="628.96" y1="6" x2="628.96" y2="11.8"/><line x1="628.96" y1="252.2" x2="628.96" y2="246.4"/>
<line x1="692.3" y1="6" x2="692.3" y2="16.5"/><line x1="692.3" y1="252.2" x2="692.3" y2="241.7"/>
<line x1="389.5" y1="242.35" x2="395.3" y2="242.35"/><line x1="708" y1="242.35" x2="702.2" y2="242.35"/>
<line x1="389.5" y1="232.5" x2="395.3" y2="232.5"/><line x1="708" y1="232.5" x2="702.2" y2="232.5"/>
<line x1="389.5" y1="222.66" x2="395.3" y2="222.66"/><line x1="708" y1="222.66" x2="702.2" y2="222.66"/>
<line x1="389.5" y1="212.81" x2="395.3" y2="212.81"/><line x1="708" y1="212.81" x2="702.2" y2="212.81"/>
<line x1="389.5" y1="202.96" x2="400.5" y2="202.96"/><line x1="708" y1="202.96" x2="697" y2="202.96"/>
<line x1="389.5" y1="193.11" x2="395.3" y2="193.11"/><line x1="708" y1="193.11" x2="702.2" y2="193.11"/>
<line x1="389.5" y1="183.26" x2="395.3" y2="183.26"/><line x1="708" y1="183.26" x2="702.2" y2="183.26"/>
<line x1="389.5" y1="173.42" x2="395.3" y2="173.42"/><line x1="708" y1="173.42" x2="702.2" y2="173.42"/>
<line x1="389.5" y1="163.57" x2="395.3" y2="163.57"/><line x1="708" y1="163.57" x2="702.2" y2="163.57"/>
<line x1="389.5" y1="153.72" x2="400.5" y2="153.72"/><line x1="708" y1="153.72" x2="697" y2="153.72"/>
<line x1="389.5" y1="143.87" x2="395.3" y2="143.87"/><line x1="708" y1="143.87" x2="702.2" y2="143.87"/>
<line x1="389.5" y1="134.02" x2="395.3" y2="134.02"/><line x1="708" y1="134.02" x2="702.2" y2="134.02"/>
<line x1="389.5" y1="124.18" x2="395.3" y2="124.18"/><line x1="708" y1="124.18" x2="702.2" y2="124.18"/>
<line x1="389.5" y1="114.33" x2="395.3" y2="114.33"/><line x1="708" y1="114.33" x2="702.2" y2="114.33"/>
<line x1="389.5" y1="104.48" x2="400.5" y2="104.48"/><line x1="708" y1="104.48" x2="697" y2="104.48"/>
<line x1="389.5" y1="94.63" x2="395.3" y2="94.63"/><line x1="708" y1="94.63" x2="702.2" y2="94.63"/>
<line x1="389.5" y1="84.78" x2="395.3" y2="84.78"/><line x1="708" y1="84.78" x2="702.2" y2="84.78"/>
<line x1="389.5" y1="74.94" x2="395.3" y2="74.94"/><line x1="708" y1="74.94" x2="702.2" y2="74.94"/>
<line x1="389.5" y1="65.09" x2="395.3" y2="65.09"/><line x1="708" y1="65.09" x2="702.2" y2="65.09"/>
<line x1="389.5" y1="55.24" x2="400.5" y2="55.24"/><line x1="708" y1="55.24" x2="697" y2="55.24"/>
<line x1="389.5" y1="45.39" x2="395.3" y2="45.39"/><line x1="708" y1="45.39" x2="702.2" y2="45.39"/>
<line x1="389.5" y1="35.54" x2="395.3" y2="35.54"/><line x1="708" y1="35.54" x2="702.2" y2="35.54"/>
<line x1="389.5" y1="25.7" x2="395.3" y2="25.7"/><line x1="708" y1="25.7" x2="702.2" y2="25.7"/>
<line x1="389.5" y1="15.85" x2="395.3" y2="15.85"/><line x1="708" y1="15.85" x2="702.2" y2="15.85"/>
</g>
<g stroke="#000" stroke-width="1.6"><line x1="640.4" y1="14" x2="651.3" y2="1.6"/><line x1="669.6" y1="14" x2="680.6" y2="1.6"/><line x1="639.5" y1="259.9" x2="649.7" y2="247.5"/><line x1="669" y1="260" x2="679" y2="248"/></g>
<g clip-path="url(#cb)" fill="none" stroke-width="3.3" stroke-linejoin="round">
<polyline points="373.92,-611.44 389.86,-253.58 405.8,-91.39 421.74,-4.74 437.68,46.8 453.62,79.86 469.56,102.29 485.5,118.2 501.44,129.87 517.38,138.68 533.32,145.49 549.26,150.86 565.2,155.17 581.14,158.68 597.08,161.57 613.02,163.98 628.96,166.01 644.8,167.73" stroke="#ff0000"/>
<polyline points="373.92,-254.92 389.86,-43.87 405.8,51.45 421.74,102.24 437.68,132.39 453.62,151.68 469.56,164.76 485.5,174.01 501.44,180.8 517.38,185.91 533.32,189.86 549.26,192.97 565.2,195.46 581.14,197.49 597.08,199.16 613.02,200.55 628.96,201.73 644.8,202.72" stroke="#ff00ff"/>
<polyline points="373.92,52.55 389.86,133.15 405.8,170.2 421.74,190.23 437.68,202.25 453.62,210.02 469.56,215.33 485.5,219.12 501.44,221.92 517.38,224.04 533.32,225.68 549.26,226.99 565.2,228.04 581.14,228.9 597.08,229.61 613.02,230.2 628.96,230.7 644.8,231.13" stroke="#0000ff"/>
<polyline points="373.92,182.39 389.86,210.72 405.8,223.66 421.74,230.62 437.68,234.78 453.62,237.46 469.56,239.29 485.5,240.59 501.44,241.55 517.38,242.27 533.32,242.83 549.26,243.28 565.2,243.63 581.14,243.93 597.08,244.17 613.02,244.37 628.96,244.54 644.8,244.68" stroke="#000000"/>
</g>
<line x1="645.5" y1="168.3" x2="676.7" y2="215.3" stroke="#ff0000" stroke-width="1.5" stroke-dasharray="1.5,2.7"/>
<line x1="645.5" y1="202.7" x2="676.7" y2="230.8" stroke="#ff00ff" stroke-width="1.5" stroke-dasharray="1.5,2.7"/>
<line x1="645.5" y1="231" x2="676.7" y2="243" stroke="#0000ff" stroke-width="1.5" stroke-dasharray="1.5,2.7"/>
<line x1="645.5" y1="244.3" x2="676.7" y2="249" stroke="#000000" stroke-width="1.5" stroke-dasharray="1.5,2.7"/>
<line x1="677" y1="215.3" x2="708" y2="215.3" stroke="#ff0000" stroke-width="3.3"/>
<line x1="677" y1="230.8" x2="708" y2="230.8" stroke="#ff00ff" stroke-width="3.3"/>
<line x1="677" y1="243" x2="708" y2="243" stroke="#0000ff" stroke-width="3.3"/>
<line x1="677" y1="249" x2="708" y2="249" stroke="#000000" stroke-width="3.3"/>
<polygon points="692.4,206 687.8,213.6 697,213.6" fill="none" stroke="#ff0000" stroke-width="1.8"/>
<polygon points="692.4,226.6 687.8,234.2 697,234.2" fill="none" stroke="#ff00ff" stroke-width="1.8"/>
<polygon points="692.4,240 687.8,247.2 697,247.2" fill="none" stroke="#0000ff" stroke-width="1.8"/>
<polygon points="692.4,247.4 687.8,253.6 697,253.6" fill="none" stroke="#000000" stroke-width="1.8"/>
<line x1="399.3" y1="19" x2="431" y2="19" stroke="#ff0000" stroke-width="3.3"/>
<circle cx="415" cy="19" r="3.6" fill="none" stroke="#ff0000" stroke-width="1.4"/>
<line x1="399.3" y1="121.6" x2="431" y2="121.6" stroke="#ff00ff" stroke-width="3.3"/>
<circle cx="415" cy="121.6" r="3.6" fill="none" stroke="#ff00ff" stroke-width="1.4"/>
<line x1="399.3" y1="199.6" x2="431" y2="199.6" stroke="#0000ff" stroke-width="3.3"/>
<circle cx="415" cy="199.6" r="3.6" fill="none" stroke="#0000ff" stroke-width="1.4"/>
<line x1="399.3" y1="233" x2="431" y2="233" stroke="#000000" stroke-width="3.3"/>
<circle cx="415" cy="233" r="3.6" fill="none" stroke="#000000" stroke-width="1.4"/>
<line x1="517" y1="121.2" x2="530" y2="121.2" stroke="#ff0000" stroke-width="3"/>
<rect x="519.5" y="117.4" width="8.2" height="7.6" fill="none" stroke="#ff0000" stroke-width="1.8"/>
<line x1="517" y1="178.8" x2="530" y2="178.8" stroke="#ff00ff" stroke-width="3"/>
<rect x="519.5" y="175.0" width="8.2" height="7.6" fill="none" stroke="#ff00ff" stroke-width="1.8"/>
<line x1="517" y1="223.5" x2="530" y2="223.5" stroke="#0000ff" stroke-width="3"/>
<rect x="519.5" y="219.7" width="8.2" height="7.6" fill="none" stroke="#0000ff" stroke-width="1.8"/>
<line x1="517" y1="242" x2="530" y2="242" stroke="#000000" stroke-width="3"/>
<rect x="519.5" y="238.2" width="8.2" height="7.6" fill="none" stroke="#000000" stroke-width="1.8"/>
<line x1="502" y1="121.4" x2="515" y2="121.4" stroke="#000" stroke-width="1.3" stroke-dasharray="1.2,1.2"/>
<path d="M494.4,121.4 L503,118.8 L501,121.4 L503,124 Z" fill="#000"/>
<rect x="91" y="43" width="12.6" height="12.6" fill="none" stroke="#0000ff" stroke-width="2"/><circle cx="97" cy="71.6" r="6.3" fill="none" stroke="#ff0000" stroke-width="2"/><polygon points="97.2,86 89.2,99 105.2,99" fill="none" stroke="#000" stroke-width="2"/>
<text x="68.6" y="209.36" font-size="16" fill="#000" text-anchor="end" >500</text><text x="68.6" y="160.12" font-size="16" fill="#000" text-anchor="end" >1000</text><text x="68.6" y="110.88" font-size="16" fill="#000" text-anchor="end" >1500</text><text x="68.6" y="61.64" font-size="16" fill="#000" text-anchor="end" >2000</text><text x="68.6" y="12.4" font-size="16" fill="#000" text-anchor="end" >2500</text><text x="76.4" y="275.3" font-size="16" fill="#000" text-anchor="middle" >0</text><text x="161.1" y="275.3" font-size="16" fill="#000" text-anchor="middle" >50</text><text x="245.8" y="275.3" font-size="16" fill="#000" text-anchor="middle" >100</text><text x="330.5" y="275.3" font-size="16" fill="#000" text-anchor="middle" >150</text><text x="404.8" y="275.3" font-size="16" fill="#000" text-anchor="middle" >250</text><text x="484.5" y="275.3" font-size="16" fill="#000" text-anchor="middle" >500</text><text x="564.2" y="275.3" font-size="16" fill="#000" text-anchor="middle" >750</text><text x="692" y="275.3" font-size="16" fill="#000" text-anchor="middle" >FF</text><text x="122.3" y="292.5" font-size="16.4" fill="#000" text-anchor="start" >&#916;T<tspan dy="3.5">mem</tspan><tspan dy="-3.5"> = T</tspan><tspan dy="3.5">mem</tspan><tspan dy="-3.5"> - T</tspan><tspan dy="3.5">room</tspan><tspan dy="-3.5"> (K)</tspan></text><text x="505.5" y="293" font-size="16.6" fill="#000" text-anchor="start" >gap (nm)</text><text x="85" y="25" font-size="16" fill="#000" text-anchor="start" >(a)</text><text x="446.5" y="23.5" font-size="16" fill="#000" text-anchor="start" >(b)</text><text x="111.6" y="54.9" font-size="16" fill="#0000ff" text-anchor="start" >M1 : 610 nm</text><text x="111.6" y="77.4" font-size="16" fill="#ff0000" text-anchor="start" >M2 : 280 nm</text><text x="111.6" y="99.1" font-size="16" fill="#000" text-anchor="start" >M3 : ref</text><text transform="translate(243,78.5) rotate(-51.5)" font-size="16.4" fill="#ff0000" text-anchor="middle">280 &#177; 50nm</text><text transform="translate(319,169.5) rotate(-30)" font-size="16.4" fill="#0000ff" text-anchor="middle">610 &#177; 20nm</text><text transform="translate(327,236) rotate(-13)" font-size="16" fill="#000" text-anchor="middle">Far field</text><text transform="translate(17.4,170.9) rotate(-90) scale(0.74,1.03)" font-size="16" font-family="Liberation Serif" style="font-family:Liberation Serif,serif" fill="#000">&#934;</text><text transform="translate(17.3,161.2) rotate(-90)" font-size="16" fill="#000"><tspan dy="7.4" font-size="14">rad</tspan><tspan dy="-7.4"> (W/m</tspan><tspan dy="-8" font-size="12">2</tspan><tspan dy="8">)</tspan></text><text transform="translate(611.5,159.6) skewY(8.8)" font-size="16" font-style="italic" fill="#ff0000">150K</text><text transform="translate(610.5,195.3) skewY(5)" font-size="16" font-style="italic" fill="#ff00ff">100K</text><text transform="translate(611,224.8) skewY(3)" font-size="16" font-style="italic" fill="#0000ff">50K</text><text transform="translate(611,242.3) skewY(0.5)" font-size="16" font-style="italic" fill="#000">20K</text>
</svg>
</body></html>
